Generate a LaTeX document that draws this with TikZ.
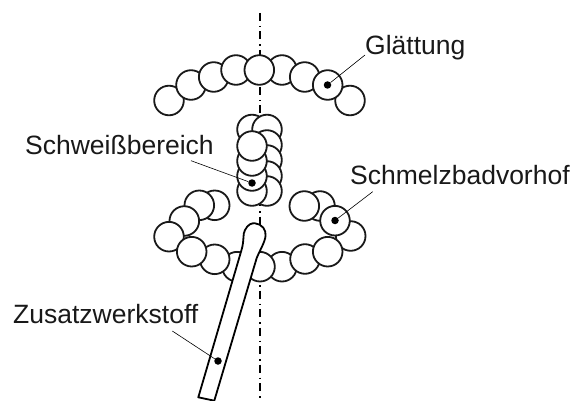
\documentclass[tikz,border=0pt]{standalone}
\usepackage{fontspec}
\setmainfont{Liberation Sans}
\begin{document}
\begin{tikzpicture}[x=1pt,y=-1pt,
  bead/.style={circle,draw=black!90,fill=white,line width=1.8pt,minimum size=29.6pt,inner sep=0pt},
  tick/.style={circle,fill=black,minimum size=7.5pt,inner sep=0pt},
  leader/.style={line width=0.6pt},
  lbl/.style={font=\fontsize{26.5}{28}\selectfont,inner sep=0pt,anchor=base west,text=black!90},
  axis/.style={line width=1.7pt,dash pattern=on 8pt off 5pt on 1.5pt off 4pt}]
\useasboundingbox (0,0) rectangle (573,401);
\coordinate (axT) at (260,13);
\coordinate (axB) at (260,401);
\draw[axis] (axT) -- (axB);
% top arc
\foreach \n/\p in {c1/{169,100.5},c2/{191,85},c3/{213.7,77},c4/{236,70},c6/{282,70},c7/{304.7,77},c9/{350,100.5},c8/{327.7,85},c5/{259.3,70}}
  \node[bead] (\n) at (\p) {};
% weld stack
\node[bead] (m0) at (252,129.5) {};
\foreach \n/\p in {r1/{267,129.5},r2/{267,145},r3/{267,160},r4/{267,176},r5/{267,191}}
  \node[bead] (\n) at (\p) {};
\foreach \n/\p in {m4/{252,191},m3/{252,176},m2/{252,161},m1/{252,146}}
  \node[bead] (\n) at (\p) {};
% left lower
\foreach \n/\p in {a4/{214.7,205.3},a3/{199.3,205.3},a2/{184.3,221},a1/{169,236.7},a7/{237,266.7},a6/{214.7,259.3},a5/{191.7,251.7}}
  \node[bead] (\n) at (\p) {};
% right lower
\foreach \n/\p in {b4/{350.7,236},b6/{320,206},b5/{335,220.7},b7/{304.3,206},b1/{282,266.7},b2/{305,259},b3/{327.7,251.7},b0/{260,266.7}}
  \node[bead] (\n) at (\p) {};
% rod
\coordinate (rodA) at (198.3,397.3);
\coordinate (rodB) at (214.3,400.7);
\draw[line width=1.8pt,fill=white,line join=round]
  (rodA) -- (241.5,250) .. controls (244.5,240) and (242.5,234) .. (245,230)
  .. controls (248,224) and (252,223) .. (255,223.3)
  .. controls (262,224) and (266.5,230) .. (265.5,236)
  .. controls (265,242) and (260,250) .. (256.7,258) -- (rodB) -- cycle;
% dots
\node[tick] (d1) at (327.5,85) {};
\node[tick] (d2) at (252,183) {};
\node[tick] (d3) at (335,220.5) {};
\node[tick] (d4) at (218,361) {};
% labels
\node[lbl] (tG) at (365,55) {Glättung};
\node[lbl] (tS) at (25,154) {Schweißbereich};
\node[lbl] (tV) at (350,184.3) {Schmelzbadvorhof};
\node[lbl] (tZ) at (13,323.3) {Zusatzwerkstoff};
% leaders
\coordinate (lG) at (365,55);
\coordinate (lS) at (191,160.7);
\coordinate (lV) at (372.7,191.7);
\coordinate (lZ) at (172.3,331);
\draw[leader] (lG) -- (d1);
\draw[leader] (lS) -- (d2);
\draw[leader] (lV) -- (d3);
\draw[leader] (lZ) -- (d4);
\end{tikzpicture}
\end{document}
